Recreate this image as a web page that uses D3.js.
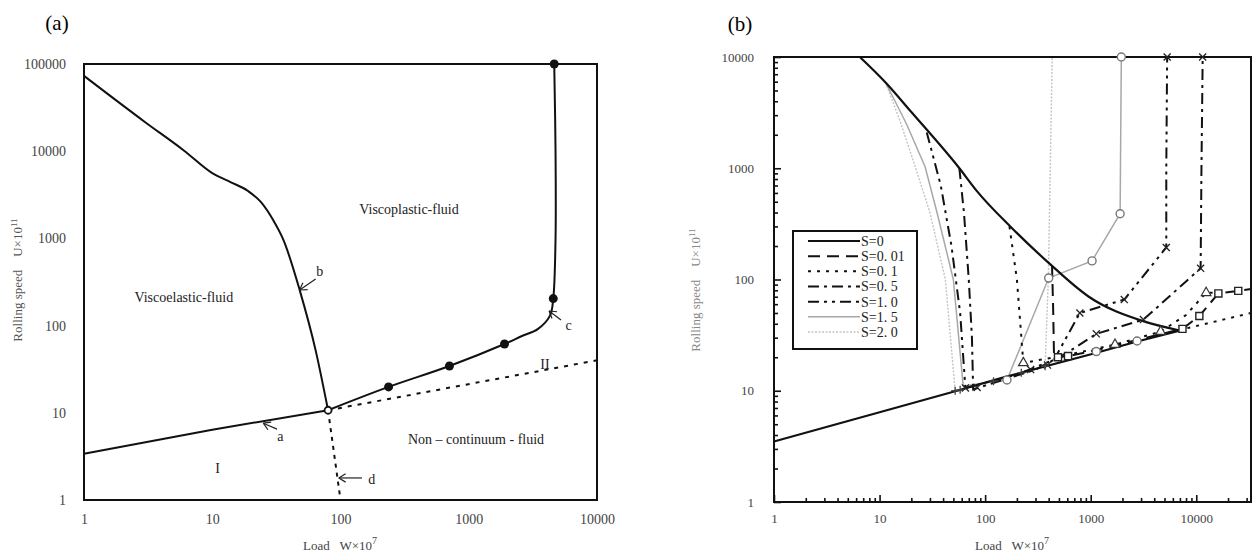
<!DOCTYPE html>
<html>
<head>
<meta charset="utf-8">
<script src="https://cdn.jsdelivr.net/npm/d3@7"></script>
<style>
body { margin: 0; background: #fff; }
text { font-family: "Liberation Serif", "DejaVu Serif", serif; }
</style>
</head>
<body>
<svg width="1254" height="554"></svg>
<script>
var svg = d3.select("svg");

// ---------- panel (a) data ----------
var aXTicks = [1, 10, 100, 1000, 10000];
var aYTicks = [1, 10, 100, 1000, 10000, 100000];
var aCurveA = [[1, 3.4], [10, 6.4], [80, 10.7]];
var aCurveB = [[1, 73000], [3, 21500], [6, 10200], [10, 5600], [14, 4400], [19, 3500], [24, 2600], [30, 1600], [36, 950], [48, 257], [64, 52], [80, 10.7]];
var aCurveC = [[80, 10.7], [237, 19.8], [707, 34.4], [1900, 61.5], [2600, 76], [3450, 91], [4300, 130], [4560, 204], [4750, 1000], [4750, 10000], [4640, 100000]];
var aLineII = [[80, 10.7], [10000, 40]];
var aLineD = [[80, 10.7], [100, 1]];
var aDots = [[237, 19.8], [707, 34.4], [1900, 61.5], [4560, 204], [4640, 100000]];
var aOpenDots = [[80, 10.7]];
var aLabels = [
  {t: "Viscoplastic-fluid", x: 342, y: 2170},
  {t: "Viscoelastic-fluid", x: 6.0, y: 213},
  {t: "Non \u2013 continuum - fluid", x: 1140, y: 5.0},
  {t: "I", x: 11, y: 2.3},
  {t: "II", x: 3930, y: 36},
  {t: "a", x: 34, y: 5.4},
  {t: "b", x: 69, y: 423},
  {t: "c", x: 6000, y: 102},
  {t: "d", x: 175, y: 1.74}
];
var aArrows = [
  [[32, 6.5], [25, 7.6]],
  [[64, 342], [48, 256]],
  [[5240, 116], [4230, 147]],
  [[147, 1.79], [97, 1.79]]
];

// ---------- panel (b) data ----------
var bXTicks = [1, 10, 100, 1000, 10000];
var bYTicks = [1, 10, 100, 1000, 10000];
var bS0Upper = [[6.5, 10000], [11.4, 5900], [20, 3200], [57, 1000], [84, 620], [176, 295], [400, 141], [960, 70], [3200, 42], [6800, 35]];
var bS0Lower = [[1, 3.5], [10, 6.4], [52, 9.9], [150, 13.2], [1050, 21.5], [2700, 27.6], [6800, 34.5]];
var bS001 = [[430, 135], [440, 60], [450, 19], [490, 20], [610, 20.5], [1100, 23], [2700, 28.5], [7400, 36], [10700, 47], [16200, 75], [25000, 79], [33000, 82]];
var bS01 = [[170, 300], [200, 100], [230, 17.8], [600, 21], [1700, 26], [4600, 34], [8000, 48], [12400, 76], [16200, 76]];
var bS05 = [[57, 1000], [63, 400], [70, 100], [75, 30], [77, 10.3], [300, 15.5], [600, 22], [1130, 32.5], [3160, 43.6], [11000, 126], [11200, 1000], [11500, 10000]];
var bS10 = [[28, 2100], [38, 700], [48, 200], [58, 50], [65, 10.6], [200, 14], [450, 19], [790, 50], [2080, 66], [5200, 194], [5200, 1000], [5300, 10000]];
var bS15 = [[11.4, 5900], [18, 2500], [27, 1030], [35, 400], [50, 100], [62, 11], [100, 11.8], [161, 12.5], [400, 103], [1030, 147], [1900, 390], [1950, 10000]];
var bS20 = [[11.4, 5900], [16, 2500], [22, 1000], [30, 400], [42, 100], [52, 10], [150, 13.2], [370, 16.6], [397, 103], [432, 10000]];
var bLineII = [[6800, 35], [33000, 50]];
var bCircles = [[161, 12.5], [400, 103], [1030, 147], [1900, 390], [1950, 10000], [1130, 22.5], [2750, 28]];
var bCrosses = [[65, 10.6], [84, 10.7], [270, 15.5], [390, 17], [790, 50], [2080, 66], [5200, 194], [5300, 10000], [1130, 32.5], [3160, 43.6], [11000, 126], [11500, 10000]];
var bPluses = [[52, 10], [58, 10.2], [120, 12.2], [220, 14.5], [370, 16.6]];
var bTriangles = [[230, 17.8], [1700, 26], [4600, 34], [12400, 76]];
var bSquares = [[490, 20], [610, 20.5], [7400, 36], [10700, 47], [16200, 75], [25000, 79]];
var bLegend = ["S=0", "S=0. 01", "S=0. 1", "S=0. 5", "S=1. 0", "S=1. 5", "S=2. 0"];

// ---------- panel (a) ----------
var xa = d3.scaleLog().domain([1, 10000]).range([84, 597]);
var ya = d3.scaleLog().domain([1, 100000]).range([500, 64]);
var ga = svg.append("g");

ga.append("text").attr("x", 57).attr("y", 30).attr("text-anchor", "middle")
  .attr("font-size", 21).text("(a)");

var axA = ga.append("g").attr("transform", "translate(0,500)")
  .call(d3.axisBottom(xa).tickValues(aXTicks).tickSize(0).tickPadding(14).tickFormat(d3.format("d")));
var ayA = ga.append("g").attr("transform", "translate(84,0)")
  .call(d3.axisLeft(ya).tickValues(aYTicks).tickSize(0).tickPadding(18).tickFormat(d3.format("d")));
[axA, ayA].forEach(function(g) {
  g.select(".domain").remove();
  g.selectAll("text").attr("font-size", 14).attr("fill", "#444")
    .style("font-family", "'Liberation Serif', serif");
});

ga.append("rect").attr("x", 84).attr("y", 64).attr("width", 513).attr("height", 436)
  .attr("fill", "none").attr("stroke", "#111").attr("stroke-width", 2);

var lineA = d3.line().x(function(d) { return xa(d[0]); }).y(function(d) { return ya(d[1]); });

ga.append("path").datum(aCurveA).attr("d", lineA).attr("fill", "none")
  .attr("stroke", "#111").attr("stroke-width", 2);
ga.append("path").datum(aCurveB).attr("d", lineA.curve(d3.curveMonotoneX)).attr("fill", "none")
  .attr("stroke", "#111").attr("stroke-width", 2);
ga.append("path").datum(aCurveC).attr("d", lineA.curve(d3.curveCatmullRom.alpha(0.5))).attr("fill", "none")
  .attr("stroke", "#111").attr("stroke-width", 2);
lineA.curve(d3.curveLinear);
ga.append("path").datum(aLineII).attr("d", lineA).attr("fill", "none")
  .attr("stroke", "#111").attr("stroke-width", 2).attr("stroke-dasharray", "4,6");
ga.append("path").datum(aLineD).attr("d", lineA).attr("fill", "none")
  .attr("stroke", "#111").attr("stroke-width", 2).attr("stroke-dasharray", "4,5");

ga.selectAll(".dot").data(aDots).enter().append("circle")
  .attr("cx", function(d) { return xa(d[0]); }).attr("cy", function(d) { return ya(d[1]); })
  .attr("r", 4.5).attr("fill", "#111");
ga.selectAll(".odot").data(aOpenDots).enter().append("circle")
  .attr("cx", function(d) { return xa(d[0]); }).attr("cy", function(d) { return ya(d[1]); })
  .attr("r", 3.5).attr("fill", "#fff").attr("stroke", "#111").attr("stroke-width", 1.8);

ga.selectAll(".lbl").data(aLabels).enter().append("text")
  .attr("x", function(d) { return xa(d.x); }).attr("y", function(d) { return ya(d.y); })
  .attr("dy", "0.35em").attr("text-anchor", "middle").attr("font-size", 14).attr("fill", "#222")
  .text(function(d) { return d.t; });

function drawArrow(g, sx, sy, a) {
  var x1 = sx(a[0][0]), y1 = sy(a[0][1]), x2 = sx(a[1][0]), y2 = sy(a[1][1]);
  var ang = Math.atan2(y1 - y2, x1 - x2);
  g.append("line").attr("x1", x1).attr("y1", y1).attr("x2", x2).attr("y2", y2)
    .attr("stroke", "#222").attr("stroke-width", 1.2);
  [-0.55, 0.55].forEach(function(o) {
    g.append("line").attr("x1", x2).attr("y1", y2)
      .attr("x2", x2 + 8 * Math.cos(ang + o)).attr("y2", y2 + 8 * Math.sin(ang + o))
      .attr("stroke", "#222").attr("stroke-width", 1.2);
  });
}
aArrows.forEach(function(a) { drawArrow(ga, xa, ya, a); });

ga.append("text").attr("transform", "translate(22,280) rotate(-90)").attr("text-anchor", "middle")
  .attr("font-size", 13).attr("fill", "#555")
  .html("Rolling speed&#160;&#160;&#160;&#160;U\u00d710<tspan dy='-5' font-size='9'>11</tspan>");
ga.append("text").attr("x", 340).attr("y", 550).attr("text-anchor", "middle")
  .attr("font-size", 13).attr("fill", "#444")
  .html("Load&#160;&#160;&#160;W\u00d710<tspan dy='-6' font-size='10'>7</tspan>");

// ---------- panel (b) ----------
var xb = d3.scaleLog().domain([1, 33000]).range([774, 1251]);
var yb = d3.scaleLog().domain([1, 10000]).range([502, 57]);
var gb = svg.append("g");

gb.append("text").attr("x", 740).attr("y", 31).attr("text-anchor", "middle")
  .attr("font-size", 21).text("(b)");

var minorX = xb.ticks().filter(function(d) { return bXTicks.indexOf(d) < 0; });
var minorY = yb.ticks().filter(function(d) { return bYTicks.indexOf(d) < 0; });

var axB = gb.append("g").attr("transform", "translate(0,502)")
  .call(d3.axisBottom(xb).tickValues(bXTicks).tickSize(-7).tickPadding(12).tickFormat(d3.format("d")));
var axBm = gb.append("g").attr("transform", "translate(0,502)")
  .call(d3.axisBottom(xb).tickValues(minorX).tickSize(-4).tickFormat(""));
var ayB = gb.append("g").attr("transform", "translate(774,0)")
  .call(d3.axisLeft(yb).tickValues(bYTicks).tickSize(-7).tickPadding(20).tickFormat(d3.format("d")));
var ayBm = gb.append("g").attr("transform", "translate(774,0)")
  .call(d3.axisLeft(yb).tickValues(minorY).tickSize(-4).tickFormat(""));
[axB, axBm, ayB, ayBm].forEach(function(g) {
  g.select(".domain").remove();
  g.selectAll("line").attr("stroke", "#111").attr("stroke-width", 1.6);
  g.selectAll("text").attr("font-size", 13).attr("fill", "#444")
    .style("font-family", "'Liberation Serif', serif");
});

gb.append("rect").attr("x", 774).attr("y", 57).attr("width", 477).attr("height", 445)
  .attr("fill", "none").attr("stroke", "#111").attr("stroke-width", 2);

var lineB = d3.line().x(function(d) { return xb(d[0]); }).y(function(d) { return yb(d[1]); });

var bSeries = [
  {d: bS20, c: "#c4c4c4", w: 1.4, dash: "2,1.5"},
  {d: bS15, c: "#a8a8a8", w: 1.5, dash: null},
  {d: bS10, c: "#111", w: 2, dash: "11,5,3,5,3,5"},
  {d: bS05, c: "#111", w: 2, dash: "11,5,3,5"},
  {d: bS01, c: "#111", w: 2, dash: "3,6"},
  {d: bS001, c: "#111", w: 2, dash: "12,7"},
  {d: bS0Upper, c: "#111", w: 2.2, dash: null, smooth: true},
  {d: bS0Lower, c: "#111", w: 2.2, dash: null},
  {d: bLineII, c: "#111", w: 2, dash: "3,6"}
];
bSeries.forEach(function(s) {
  lineB.curve(s.smooth ? d3.curveMonotoneX : d3.curveLinear);
  gb.append("path").datum(s.d).attr("d", lineB).attr("fill", "none")
    .attr("stroke", s.c).attr("stroke-width", s.w)
    .attr("stroke-dasharray", s.dash);
});

gb.selectAll(".bc").data(bCircles).enter().append("circle")
  .attr("cx", function(d) { return xb(d[0]); }).attr("cy", function(d) { return yb(d[1]); })
  .attr("r", 4).attr("fill", "#fff").attr("stroke", "#777").attr("stroke-width", 1.4);
gb.selectAll(".bx").data(bCrosses).enter().append("path")
  .attr("transform", function(d) { return "translate(" + xb(d[0]) + "," + yb(d[1]) + ") rotate(45)"; })
  .attr("d", "M-5,0H5M0,-5V5").attr("fill", "none").attr("stroke", "#222").attr("stroke-width", 1.3);
gb.selectAll(".bp").data(bPluses).enter().append("path")
  .attr("transform", function(d) { return "translate(" + xb(d[0]) + "," + yb(d[1]) + ")"; })
  .attr("d", "M-4,0H4M0,-4V4").attr("stroke", "#444").attr("stroke-width", 1.3);
gb.selectAll(".bt").data(bTriangles).enter().append("path")
  .attr("transform", function(d) { return "translate(" + xb(d[0]) + "," + yb(d[1]) + ")"; })
  .attr("d", d3.symbol(d3.symbolTriangle, 40)).attr("fill", "#fff").attr("stroke", "#333").attr("stroke-width", 1.2);
gb.selectAll(".bs").data(bSquares).enter().append("path")
  .attr("transform", function(d) { return "translate(" + xb(d[0]) + "," + yb(d[1]) + ")"; })
  .attr("d", d3.symbol(d3.symbolSquare, 50)).attr("fill", "#fff").attr("stroke", "#222").attr("stroke-width", 1.4);

// legend
var lg = gb.append("g").attr("transform", "translate(793,231)");
lg.append("rect").attr("width", 124).attr("height", 118).attr("fill", "#fff")
  .attr("stroke", "#111").attr("stroke-width", 2);
var lgRow = d3.scaleLinear().domain([0, 6]).range([10, 101]);
var lgStyle = [bSeries[6], bSeries[5], bSeries[4], bSeries[3], bSeries[2], bSeries[1], bSeries[0]];
bLegend.forEach(function(t, i) {
  lg.append("line").attr("x1", 15).attr("x2", 67).attr("y1", lgRow(i)).attr("y2", lgRow(i))
    .attr("stroke", lgStyle[i].c).attr("stroke-width", lgStyle[i].w)
    .attr("stroke-dasharray", lgStyle[i].dash);
  lg.append("text").attr("x", 68).attr("y", lgRow(i)).attr("dy", "0.35em")
    .attr("font-size", 14).attr("fill", "#222").text(t);
});

gb.append("text").attr("transform", "translate(700,290) rotate(-90)").attr("text-anchor", "middle")
  .attr("font-size", 13).attr("fill", "#888")
  .html("Rolling speed&#160;&#160;&#160;&#160;U\u00d710<tspan dy='-5' font-size='9'>11</tspan>");
gb.append("text").attr("x", 1012).attr("y", 550).attr("text-anchor", "middle")
  .attr("font-size", 13).attr("fill", "#444")
  .html("Load&#160;&#160;&#160;W\u00d710<tspan dy='-6' font-size='10'>7</tspan>");
</script>
</body>
</html>
